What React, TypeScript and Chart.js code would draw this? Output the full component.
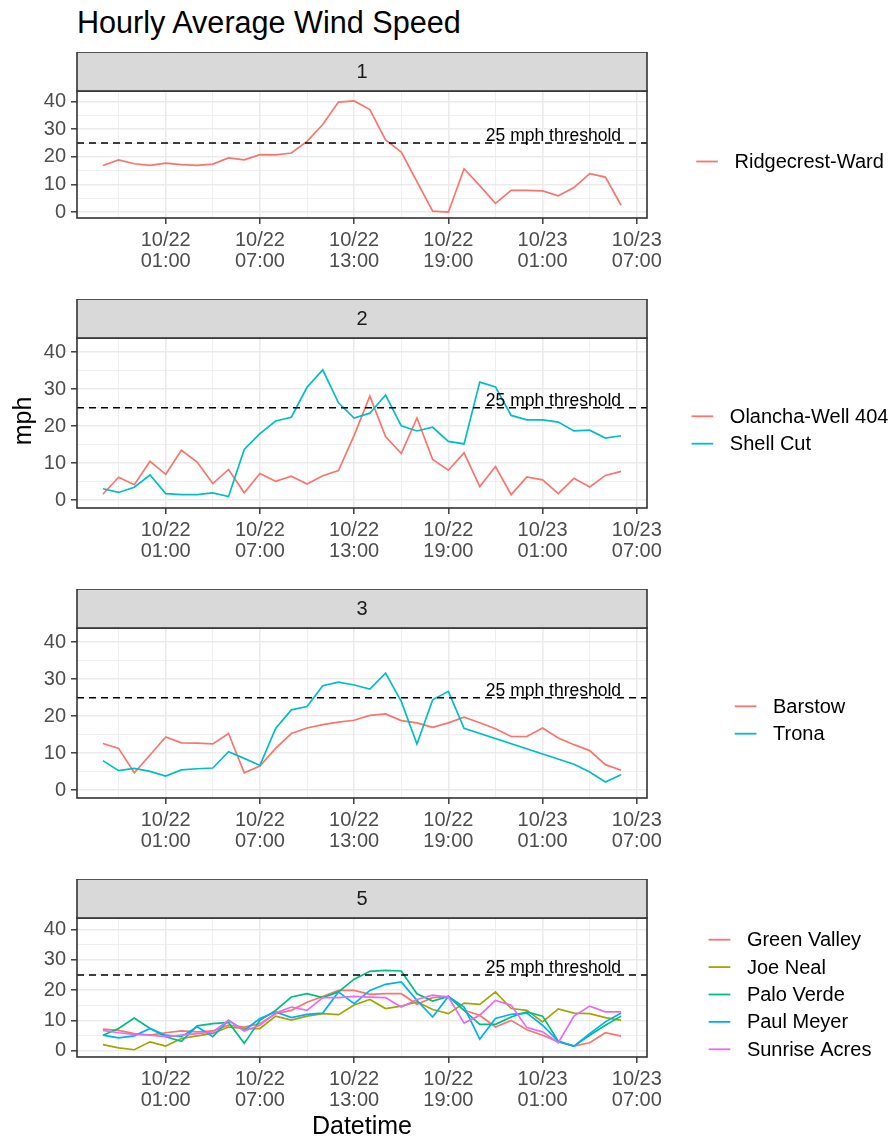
import React, { useEffect, useRef } from "react";
import { Chart, registerables } from "chart.js";

Chart.register(...registerables);

const FONT = "'Liberation Sans', Arial, Helvetica, sans-serif";

// ---------- data ----------
const times = [
  "10/21 21:00", "10/21 22:00", "10/21 23:00",
  "10/22 00:00", "10/22 01:00", "10/22 02:00", "10/22 03:00", "10/22 04:00", "10/22 05:00",
  "10/22 06:00", "10/22 07:00", "10/22 08:00", "10/22 09:00", "10/22 10:00", "10/22 11:00",
  "10/22 12:00", "10/22 13:00", "10/22 14:00", "10/22 15:00", "10/22 16:00", "10/22 17:00",
  "10/22 18:00", "10/22 19:00", "10/22 20:00", "10/22 21:00", "10/22 22:00", "10/22 23:00",
  "10/23 00:00", "10/23 01:00", "10/23 02:00", "10/23 03:00", "10/23 04:00", "10/23 05:00",
  "10/23 06:00",
];

const xMajorTicks = ["10/22 01:00", "10/22 07:00", "10/22 13:00", "10/22 19:00", "10/23 01:00", "10/23 07:00"];
const xMinorTicks = ["10/21 22:00", "10/22 04:00", "10/22 10:00", "10/22 16:00", "10/22 22:00", "10/23 04:00"];
const yMajorTicks = [0, 10, 20, 30, 40];
const yMinorTicks = [5, 15, 25, 35];
const yLimits = [-2.1, 43.8];

const threshold = 25;
const thresholdLabel = "25 mph threshold";

const ridgecrestWard = [16.9, 18.9, 17.5, 16.9, 17.7, 17.2, 16.9, 17.4, 19.6, 18.9, 20.8, 20.7, 21.4, 25.6, 31.7, 39.8, 40.2, 37.1, 26.1, 21.7, null, 0.4, 0.0, 15.7, 9.6, 3.2, 7.9, 7.9, 7.7, 5.9, 8.9, 13.9, 12.7, 2.5];

const olanchaWell404 = [1.6, 6.2, 4.2, 10.5, 7.0, 13.5, 10.3, 4.5, 8.3, 2.0, 7.2, 5.1, 6.5, 4.4, 6.6, 8.0, 17.5, 28.1, 17.2, 12.6, 22.2, 11.0, 8.1, 12.8, 3.7, 9.1, 1.5, 6.3, 5.5, 1.8, 5.9, 3.6, 6.7, 7.8];
const shellCut = [3.1, 2.1, 3.5, 6.8, 1.8, 1.5, 1.5, 2.0, 1.0, 13.7, 18.0, 21.4, 22.4, 30.5, 35.2, 26.3, 22.2, 23.5, 28.4, 20.1, 18.7, 19.7, 15.9, 15.2, 31.9, 30.6, 22.9, 21.7, 21.7, 21.1, 18.7, 18.9, 16.8, 17.4];

const barstow = [12.6, 11.3, 4.7, 9.5, 14.4, 12.8, 12.7, 12.5, 15.3, 4.7, 6.5, 11.3, 15.3, 16.8, 17.7, 18.4, 18.9, 20.2, 20.6, 18.8, 18.2, 17.0, 18.2, 19.7, 18.2, 16.6, 14.5, 14.5, 16.8, 14.1, 12.3, 10.7, 6.9, 5.4];
const trona = [8.0, 5.3, 5.9, 5.1, 3.8, 5.5, 5.8, 6.0, 10.4, 8.6, 6.7, 16.7, 21.7, 22.6, 28.2, 29.2, 28.4, 27.3, 31.6, 24.0, 12.5, 24.4, 26.7, 16.7, null, null, null, null, null, null, 7.0, 4.9, 2.2, 4.2];

const greenValley = [7.1, 6.7, 5.6, 5.1, 5.9, 6.5, 6.2, 6.5, 8.4, 7.8, 8.9, 12.2, 13.3, 16.0, 17.9, 19.9, 19.9, 18.6, 18.8, 18.8, 15.3, 17.5, 17.9, 13.3, 11.7, 7.8, 10.0, 6.9, 5.1, 2.9, 1.5, 2.6, 5.9, 4.8];
const joeNeal = [2.0, 0.9, 0.3, 2.9, 1.5, 4.0, 4.9, 5.7, 7.8, 7.3, 7.3, 11.4, 10.1, 11.4, 12.2, 11.9, 15.1, 16.9, 13.9, 14.7, 16.1, 13.6, 12.2, 15.7, 15.3, 19.4, 13.9, 13.3, 9.5, 13.8, 12.4, 12.2, 10.9, 10.0];
const paloVerde = [5.1, 7.3, 10.8, 7.3, 4.6, 3.1, 8.2, 8.9, 9.3, 2.4, 10.0, 13.3, 17.7, 18.8, 17.5, 19.4, 23.6, 26.2, 26.5, 26.3, 18.8, 16.4, 17.9, 13.3, 8.7, 8.7, 11.1, 12.8, 11.4, 3.1, 1.5, 5.1, 8.4, 11.4];
const paulMeyer = [5.1, 4.2, 4.9, 7.3, 5.1, 4.6, 7.9, 4.6, 10.0, 6.7, 10.6, 12.8, 10.9, 12.0, 12.4, 19.4, 15.5, 19.9, 21.9, 22.7, 16.6, 11.1, 17.9, 14.4, 3.8, 10.6, 12.0, 12.4, 8.4, 3.1, 1.5, 5.6, 9.5, 12.4];
const sunriseAcres = [6.7, 5.9, 5.4, 5.1, 4.6, 5.1, 5.6, 6.2, 10.0, 6.5, 8.4, 12.4, 14.4, 13.3, 17.5, 17.5, 17.9, 17.7, 17.5, 14.4, 16.9, 18.3, 17.7, 9.1, 11.7, 16.6, 15.0, 7.6, 6.2, 2.6, 11.4, 14.7, 12.8, 12.8];

const hue1 = ["#F8766D"];
const hue2 = ["#F8766D", "#00BFC4"];
const hue5 = ["#F8766D", "#A3A500", "#00BF7D", "#00B0F6", "#E76BF3"];

type Series = { name: string; values: (number | null)[]; color: string };
type PanelDef = { strip: string; series: Series[]; top: number; plotH: number };

const panels: PanelDef[] = [
  { strip: "1", top: 52, plotH: 127, series: [{ name: "Ridgecrest-Ward", values: ridgecrestWard, color: hue1[0] }] },
  {
    strip: "2", top: 299, plotH: 170, series: [
      { name: "Olancha-Well 404", values: olanchaWell404, color: hue2[0] },
      { name: "Shell Cut", values: shellCut, color: hue2[1] },
    ],
  },
  {
    strip: "3", top: 589, plotH: 170, series: [
      { name: "Barstow", values: barstow, color: hue2[0] },
      { name: "Trona", values: trona, color: hue2[1] },
    ],
  },
  {
    strip: "5", top: 879, plotH: 139, series: [
      { name: "Green Valley", values: greenValley, color: hue5[0] },
      { name: "Joe Neal", values: joeNeal, color: hue5[1] },
      { name: "Palo Verde", values: paloVerde, color: hue5[2] },
      { name: "Paul Meyer", values: paulMeyer, color: hue5[3] },
      { name: "Sunrise Acres", values: sunriseAcres, color: hue5[4] },
    ],
  },
];

// ---------- layout ----------
const W = 892;
const STRIP_H = 39;
const AXIS_H = 60;
const PLOT_LEFT = 77;
const PLOT_RIGHT = 647;
const LEGEND_CX = 790;

const toHours = (s: string) => {
  const [md, hm] = s.split(" ");
  const day = parseInt(md.split("/")[1], 10);
  const h = parseInt(hm.split(":")[0], 10);
  return (day - 22) * 24 + h;
};

const xs = times.map(toHours);
const xSpan = xs[xs.length - 1] - xs[0];
const xMin = xs[0] - 0.05 * xSpan;
const xMax = xs[xs.length - 1] + 0.05 * xSpan;
const xMajorVals = xMajorTicks.map(toHours);
const xMinorVals = xMinorTicks.map(toHours);
const xTickVals = [...xMajorVals, ...xMinorVals].sort((a, b) => a - b);
const xLabelMap = new Map<number, string[]>(xMajorTicks.map((s) => [toHours(s), s.split(" ")]));
const yTickVals = [...yMajorTicks, ...yMinorTicks].sort((a, b) => a - b);

function Panel({ def }: { def: PanelDef }) {
  const ref = useRef<HTMLCanvasElement | null>(null);
  const height = STRIP_H + def.plotH + AXIS_H;

  useEffect(() => {
    const canvas = ref.current;
    if (!canvas) return;
    const n = def.series.length;
    const datasets: any[] = def.series.map((s, i) => ({
      label: s.name,
      data: xs.map((x, j) => ({ x, y: s.values[j] })),
      borderColor: s.color,
      backgroundColor: s.color,
      borderWidth: 1.7,
      pointRadius: 0,
      pointHoverRadius: 0,
      tension: 0,
      fill: false,
      spanGaps: true,
      order: n - i,
    }));
    datasets.push({
      label: "threshold",
      data: [{ x: xMin, y: threshold }, { x: xMax, y: threshold }],
      borderColor: "#000000",
      borderWidth: 1.5,
      borderDash: [7, 5],
      pointRadius: 0,
      fill: false,
      order: -1,
    });

    const decor = {
      id: "decor",
      afterDraw(chart: any) {
        const ctx = chart.ctx as CanvasRenderingContext2D;
        const a = chart.chartArea;
        const w = a.right - a.left;
        ctx.save();
        // threshold label
        const xs0 = chart.scales.x.getPixelForValue(xs[xs.length - 1]);
        const ys0 = chart.scales.y.getPixelForValue(threshold);
        ctx.font = `17.5px ${FONT}`;
        ctx.fillStyle = "#000000";
        ctx.textAlign = "right";
        ctx.textBaseline = "alphabetic";
        ctx.fillText(thresholdLabel, xs0, ys0 - 2);
        // panel border
        ctx.strokeStyle = "#333333";
        ctx.lineWidth = 1.6;
        ctx.strokeRect(a.left, a.top, w, a.bottom - a.top);
        // strip
        ctx.fillStyle = "#D9D9D9";
        ctx.fillRect(a.left, a.top - STRIP_H, w, STRIP_H);
        ctx.strokeRect(a.left, a.top - STRIP_H, w, STRIP_H);
        ctx.fillStyle = "#1A1A1A";
        ctx.font = `20px ${FONT}`;
        ctx.textAlign = "center";
        ctx.textBaseline = "middle";
        ctx.fillText(def.strip, a.left + w / 2, a.top - STRIP_H / 2 + 1);
        // legend
        ctx.font = `20px ${FONT}`;
        const maxW = Math.max(...def.series.map((s) => ctx.measureText(s.name).width));
        const x0 = LEGEND_CX - (38.3 + maxW) / 2;
        const step = 27.4;
        const cy = (a.top + a.bottom) / 2 + 7;
        def.series.forEach((s, i) => {
          const y = cy - ((n - 1) * step) / 2 + i * step;
          ctx.strokeStyle = s.color;
          ctx.lineWidth = 1.8;
          ctx.beginPath();
          ctx.moveTo(x0, y);
          ctx.lineTo(x0 + 21.7, y);
          ctx.stroke();
          ctx.fillStyle = "#000000";
          ctx.textAlign = "left";
          ctx.textBaseline = "middle";
          ctx.fillText(s.name, x0 + 38.3, y + 1);
        });
        ctx.restore();
      },
    };

    const chart = new Chart(canvas, {
      type: "line",
      data: { datasets },
      options: {
        animation: false,
        responsive: false,
        devicePixelRatio: 1,
        events: [],
        layout: { padding: { left: 0, top: STRIP_H, right: W - PLOT_RIGHT, bottom: 0 } },
        plugins: { legend: { display: false }, tooltip: { enabled: false }, title: { display: false } },
        scales: {
          x: {
            type: "linear",
            min: xMin,
            max: xMax,
            afterBuildTicks: (axis: any) => {
              axis.ticks = xTickVals.map((v) => ({ value: v }));
            },
            afterFit: (axis: any) => {
              axis.height = AXIS_H;
            },
            border: { display: false },
            grid: {
              color: "#EBEBEB",
              lineWidth: (c: any) => (c.tick && xMajorVals.includes(c.tick.value) ? 1.6 : 0.8),
              drawTicks: true,
              tickLength: 6,
              tickWidth: 1.4,
              tickColor: (c: any) => (c.tick && xMajorVals.includes(c.tick.value) ? "#333333" : "rgba(0,0,0,0)"),
            },
            ticks: {
              autoSkip: false,
              maxRotation: 0,
              minRotation: 0,
              padding: 6,
              color: "#4D4D4D",
              font: { family: FONT, size: 20, lineHeight: 1.05 },
              callback: (v: any) => xLabelMap.get(Number(v)) ?? "",
            },
          },
          y: {
            type: "linear",
            min: yLimits[0],
            max: yLimits[1],
            afterBuildTicks: (axis: any) => {
              axis.ticks = yTickVals.map((v) => ({ value: v }));
            },
            afterFit: (axis: any) => {
              axis.width = PLOT_LEFT;
            },
            border: { display: false },
            grid: {
              color: "#EBEBEB",
              lineWidth: (c: any) => (c.tick && yMajorTicks.includes(c.tick.value) ? 1.6 : 0.8),
              drawTicks: true,
              tickLength: 6,
              tickWidth: 1.4,
              tickColor: (c: any) => (c.tick && yMajorTicks.includes(c.tick.value) ? "#333333" : "rgba(0,0,0,0)"),
            },
            ticks: {
              autoSkip: false,
              padding: 5,
              color: "#4D4D4D",
              font: { family: FONT, size: 20 },
              callback: (v: any) => (yMajorTicks.includes(Number(v)) ? String(v) : ""),
            },
          },
        },
      } as any,
      plugins: [decor],
    });
    return () => chart.destroy();
  }, [def]);

  return (
    <canvas
      ref={ref}
      width={W}
      height={height}
      style={{ position: "absolute", left: 0, top: def.top, width: W, height, display: "block" }}
    />
  );
}

export default function App() {
  return (
    <div
      style={{
        position: "absolute",
        left: 0,
        top: 0,
        width: W,
        height: 1139,
        overflow: "hidden",
        background: "#ffffff",
        fontFamily: FONT,
        color: "#000000",
      }}
    >
      <div style={{ position: "absolute", left: 77, top: 7, fontSize: 30.6, lineHeight: "30px", whiteSpace: "nowrap" }}>
        Hourly Average Wind Speed
      </div>
      {panels.map((p) => (
        <Panel key={p.strip} def={p} />
      ))}
      <div
        style={{
          position: "absolute",
          left: 22 - 60,
          top: 421 - 15,
          width: 120,
          height: 30,
          lineHeight: "30px",
          fontSize: 25,
          textAlign: "center",
          transform: "rotate(-90deg)",
          whiteSpace: "nowrap",
        }}
      >
        mph
      </div>
      <div
        style={{
          position: "absolute",
          left: (PLOT_LEFT + PLOT_RIGHT) / 2 - 100,
          top: 1113,
          width: 200,
          lineHeight: "25px",
          fontSize: 25,
          textAlign: "center",
          whiteSpace: "nowrap",
        }}
      >
        Datetime
      </div>
    </div>
  );
}
